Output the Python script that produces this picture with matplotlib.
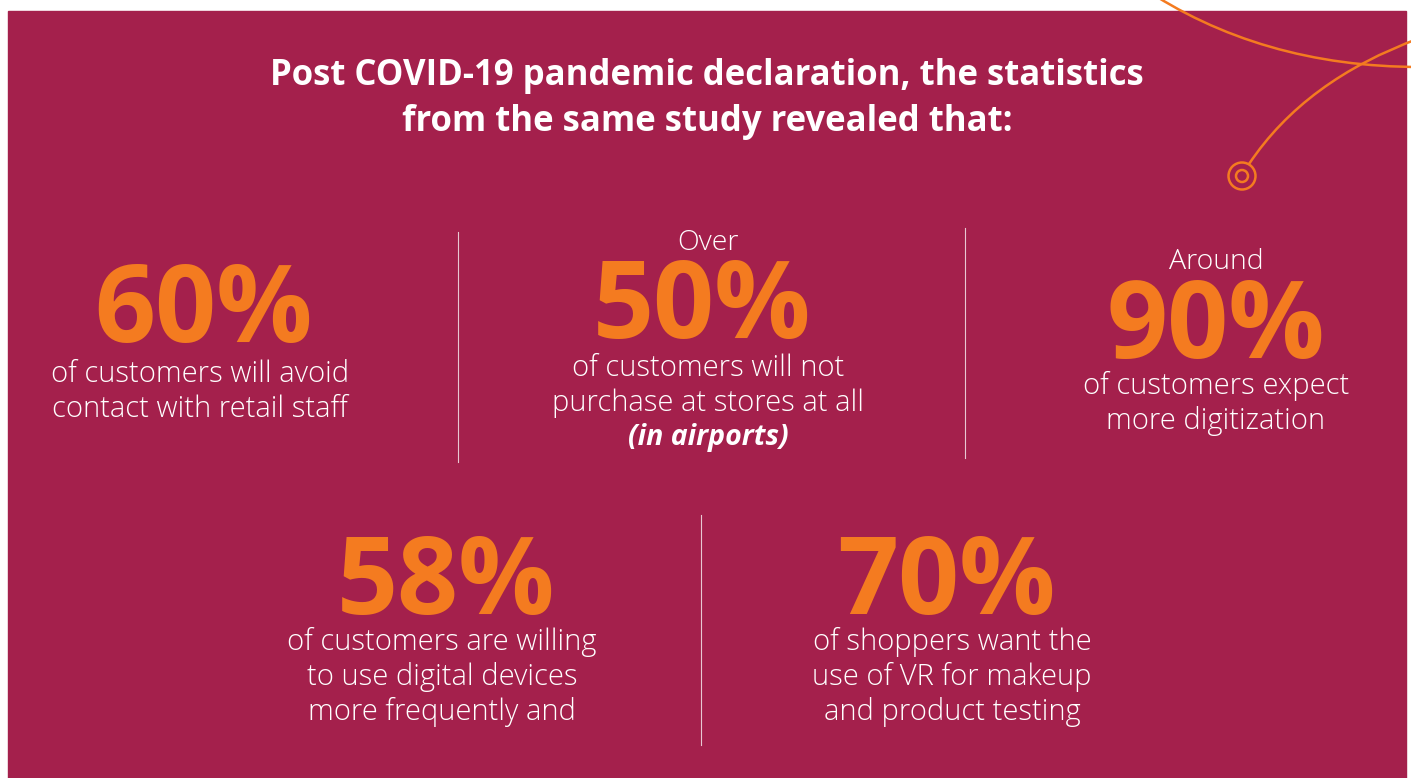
import matplotlib.pyplot as plt
from matplotlib.path import Path
from matplotlib.patches import PathPatch, Rectangle, Circle

# stats shown in the infographic
values = [60, 50, 90, 58, 70]
prefixes = ["", "Over", "Around", "", ""]
descriptions = [
    ["of customers will avoid", "contact with retail staff"],
    ["of customers will not", "purchase at stores at all"],
    ["of customers expect", "more digitization"],
    ["of customers are willing", "to use digital devices", "more frequently and"],
    ["of shoppers want the", "use of VR for makeup", "and product testing"],
]
notes = ["", "(in airports)", "", "", ""]
title = ["Post COVID-19 pandemic declaration, the statistics",
         "from the same study revealed that:"]

# layout (pixel coords, y down)
cx = [203, 702, 1216, 446, 946]
num_base = [342, 338, 358, 614, 614]
text_cx = [200, 708, 1216, 442, 952]
desc_base = [382, 376, 394, 650, 650]
prefix_base = [0, 250, 269, 0, 0]

BG = "#a4204c"
ORANGE = "#f47b20"
FONT = "Open Sans"

W, H = 1411, 778
fig = plt.figure(figsize=(W / 100, H / 100), dpi=100)
ax = fig.add_axes([0, 0, 1, 1])
ax.set_xlim(0, W)
ax.set_ylim(H, 0)
ax.axis("off")

ax.add_patch(Rectangle((8, 11), 1398, 780, color=BG, zorder=0))

# decorative arcs
arc1 = Path([(1140, -14), (1260, 67), (1420, 67)], [Path.MOVETO, Path.CURVE3, Path.CURVE3])
arc2 = Path([(1249, 164), (1305, 80), (1420, 38)], [Path.MOVETO, Path.CURVE3, Path.CURVE3])
for p in (arc1, arc2):
    ax.add_patch(PathPatch(p, fill=False, edgecolor=ORANGE, lw=1.8, zorder=2))
ax.add_patch(Circle((1242, 176), 13.5, fill=False, edgecolor=ORANGE, lw=1.8, zorder=2))
ax.add_patch(Circle((1242, 176), 6, fill=False, edgecolor=ORANGE, lw=1.8, zorder=2))

# title
for i, line in enumerate(title):
    ax.text(707, 85 + i * 46, line, ha="center", va="baseline", color="white",
            fontsize=25, fontweight="bold", family=FONT)

# dividers
ax.plot([458, 458], [232, 462], color="#e8c8d2", lw=0.8)
ax.plot([965, 965], [228, 458], color="#e8c8d2", lw=0.8)
ax.plot([701, 701], [515, 745], color="#e8c8d2", lw=0.8)

for i, v in enumerate(values):
    if prefixes[i]:
        ax.text(text_cx[i], prefix_base[i], prefixes[i], ha="center", va="baseline",
                color="white", fontsize=20.5, fontweight="light", family=FONT)
    ax.text(cx[i], num_base[i], f"{v}%", ha="center", va="baseline", color=ORANGE,
            fontsize=77, fontweight="bold", family=FONT)
    y = desc_base[i]
    for line in descriptions[i]:
        ax.text(text_cx[i], y, line, ha="center", va="baseline", color="white",
                fontsize=21, fontweight="light", family=FONT)
        y += 35
    if notes[i]:
        ax.text(text_cx[i], y - 1, notes[i], ha="center", va="baseline", color="white",
                fontsize=20.5, fontweight="bold", style="italic", family=FONT)

fig.savefig("out.png", dpi=100)
